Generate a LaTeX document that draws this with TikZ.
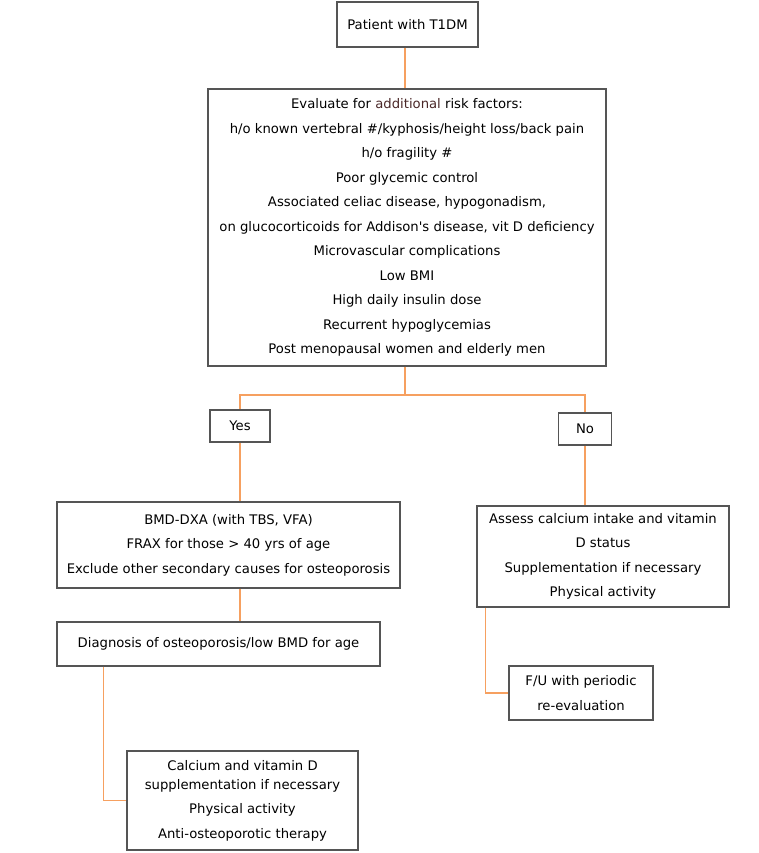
\documentclass[tikz,border=0pt]{standalone}
\usepackage{fontspec}
\setmainfont{DejaVu Sans}
\usetikzlibrary{positioning}

\definecolor{linkorange}{RGB}{246,160,96}
\definecolor{boxgrey}{RGB}{85,85,85}
\definecolor{darkbrown}{RGB}{75,40,40}
\newcommand\boxfont{\fontsize{13.2}{24.5}\selectfont}

\begin{document}
\begin{tikzpicture}[
    x=1pt,
    y=-1pt,
    box/.style={draw=boxgrey, line width=1.1pt, fill=white, align=center,
        inner sep=0pt, font=\boxfont},
    link/.style={draw=linkorange, line width=1.2pt},
]
    \useasboundingbox (0,0) rectangle (758,853);

    \node[box, minimum width=141, minimum height=45] (patient) at (407.5,24.5)
        {Patient with T1DM};
    \node[box, minimum width=398, minimum height=277] (risk) at (407,227.5)
        {Evaluate for {\color{darkbrown}additional} risk factors:\\
         h/o known vertebral \#/kyphosis/height loss/back pain\\
         h/o fragility \#\\
         Poor glycemic control\\
         Associated celiac disease, hypogonadism,\\
         on glucocorticoids for Addison\textquotesingle s disease, vit D deficiency\\
         Microvascular complications\\
         Low BMI\\
         High daily insulin dose\\
         Recurrent hypoglycemias\\
         Post menopausal women and elderly men};

    \node[box, minimum width=60, minimum height=32] (yes) at (240,426) {Yes};
    \node[box, minimum width=53, minimum height=32] (no) at (585,429) {No};

    \node[box, minimum width=343, minimum height=86] (bmd) at (228.5,545)
        {BMD-DXA (with TBS, VFA)\\
         FRAX for those > 40 yrs of age\\
         Exclude other secondary causes for osteoporosis};
    \node[box, minimum width=323, minimum height=44] (diag) at (218.5,644)
        {Diagnosis of osteoporosis/low BMD for age};
    \node[box, minimum width=231, minimum height=99] (calc) at (242.5,800.5)
        {Calcium and vitamin D\\[-5.5pt]
         supplementation if necessary\\
         Physical activity\\
         Anti-osteoporotic therapy};

    \node[box, minimum width=252, minimum height=101] (assess) at (603,556.5)
        {Assess calcium intake and vitamin\\
         D status\\
         Supplementation if necessary\\
         Physical activity};
    \node[box, minimum width=144, minimum height=54] (fu) at (581,693)
        {F/U with periodic\\
         re-evaluation};

    \coordinate (split) at (405,395);

    \draw[link] (patient.south -| split) -- (risk.north -| split);
    \draw[link] (risk.south -| split) -- (split);
    \draw[link] (split) -| (yes.north);
    \draw[link] (split) -| (no.north);
    \draw[link] (yes.south) -- (yes |- bmd.north);
    \draw[link] (bmd.south -| yes) -- (diag.north -| yes);
    \draw[link] ([xshift=47]diag.south west) |- (calc.west);
    \draw[link] (no.south) -- (no |- assess.north);
    \draw[link] ([xshift=9]assess.south west) |- (fu.west);
\end{tikzpicture}
\end{document}
